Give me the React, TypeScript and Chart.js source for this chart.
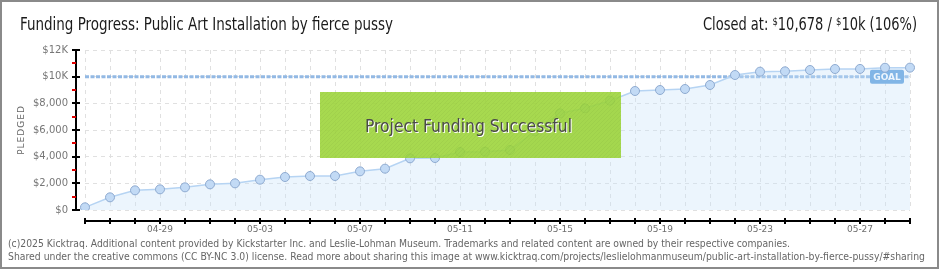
import React, { useEffect, useRef } from 'react';
import { Chart, registerables } from 'chart.js';

Chart.register(...registerables);

const dates = [
  '04-26', '04-27', '04-28', '04-29', '04-30', '05-01', '05-02', '05-03', '05-04', '05-05',
  '05-06', '05-07', '05-08', '05-09', '05-10', '05-11', '05-12', '05-13', '05-14', '05-15',
  '05-16', '05-17', '05-18', '05-19', '05-20', '05-21', '05-22', '05-23', '05-24', '05-25',
  '05-26', '05-27', '05-28', '05-29',
];
const pledged = [
  200, 950, 1475, 1550, 1700, 1925, 2000, 2275, 2475, 2550,
  2550, 2900, 3100, 3875, 3900, 4350, 4375, 4500, 5900, 7250,
  7625, 8200, 8925, 9000, 9075, 9375, 10125, 10375, 10400, 10500,
  10575, 10580, 10670, 10678,
];
const goalValue = 10000;
const goalLine = dates.map(() => goalValue);

const titleText = 'Funding Progress: Public Art Installation by fierce pussy';
const closedParts = ['Closed at: ', '$', '10,678 / ', '$', '10k (106%)'];
const bannerText = 'Project Funding Successful';
const footerLines = [
  '(c)2025 Kicktraq. Additional content provided by Kickstarter Inc. and Leslie-Lohman Museum. Trademarks and related content are owned by their respective companies.',
  'Shared under the creative commons (CC BY-NC 3.0) license. Read more about sharing this image at www.kicktraq.com/projects/leslielohmanmuseum/public-art-installation-by-fierce-pussy/#sharing',
];

const TITLE_FONT = '"DejaVu Sans Condensed", "DejaVu Sans", sans-serif';

function fitText(ctx: CanvasRenderingContext2D, text: string, x: number, y: number, font: string, width: number, color: string) {
  ctx.save();
  ctx.font = font;
  ctx.fillStyle = color;
  ctx.textAlign = 'left';
  ctx.textBaseline = 'alphabetic';
  const w = ctx.measureText(text).width;
  ctx.translate(x, y);
  ctx.scale(width / w, 1);
  ctx.fillText(text, 0, 0);
  ctx.restore();
}

const decorPlugin = {
  id: 'decor',
  afterDatasetDraw(chart: any, args: any) {
    if (args.index !== 1) return;
    const { ctx } = chart;
    const x = chart.scales.x;
    const y = chart.scales.y;
    const gy = y.getPixelForValue(goalValue);
    const cx = x.getPixelForValue(dates.length - 2) + 2;
    ctx.save();
    ctx.fillStyle = '#5b9ddc';
    const bw = 34, bh = 14;
    ctx.beginPath();
    ctx.roundRect(cx - bw / 2, gy - bh / 2, bw, bh, 2);
    ctx.fill();
    ctx.fillStyle = '#ffffff';
    ctx.font = 'bold 9px "DejaVu Sans", sans-serif';
    ctx.textAlign = 'center';
    ctx.textBaseline = 'middle';
    ctx.fillText('GOAL', cx, gy + 1);
    ctx.restore();
  },
  afterDraw(chart: any) {
    const { ctx, chartArea } = chart;
    const x = chart.scales.x;
    const y = chart.scales.y;
    ctx.save();
    // y axis
    const ax = chartArea.left - 9;
    const yTop = y.getPixelForValue(12000);
    const yBot = y.getPixelForValue(0);
    ctx.strokeStyle = '#000';
    ctx.lineWidth = 2;
    ctx.beginPath();
    ctx.moveTo(ax, yTop);
    ctx.lineTo(ax, yBot);
    ctx.stroke();
    for (let v = 0; v <= 12000; v += 1000) {
      const py = Math.round(y.getPixelForValue(v));
      ctx.beginPath();
      if (v % 2000 === 0) {
        ctx.strokeStyle = '#000';
        ctx.moveTo(ax - 4, py);
        ctx.lineTo(ax + 4, py);
      } else {
        ctx.strokeStyle = '#e00000';
        ctx.moveTo(ax - 4, py);
        ctx.lineTo(ax, py);
      }
      ctx.stroke();
    }
    // x axis
    const ay = chartArea.bottom + 11;
    ctx.strokeStyle = '#000';
    ctx.beginPath();
    ctx.moveTo(x.getPixelForValue(0), ay);
    ctx.lineTo(x.getPixelForValue(dates.length - 1), ay);
    ctx.stroke();
    for (let i = 0; i < dates.length; i++) {
      const px = Math.round(x.getPixelForValue(i));
      ctx.beginPath();
      ctx.moveTo(px, ay - 3);
      ctx.lineTo(px, ay + 3);
      ctx.stroke();
    }
    // PLEDGED
    ctx.save();
    ctx.translate(22, (yTop + yBot) / 2);
    ctx.rotate(-Math.PI / 2);
    ctx.fillStyle = '#666';
    ctx.font = '9px "DejaVu Sans", sans-serif';
    ctx.textAlign = 'center';
    ctx.textBaseline = 'middle';
    (ctx as any).letterSpacing = '1px';
    ctx.fillText('PLEDGED', 0, 0);
    ctx.restore();

    // banner
    const bx = 320, by = 92, bw = 301, bh = 66;
    ctx.fillStyle = 'rgba(155,212,55,0.88)';
    ctx.fillRect(bx, by, bw, bh);
    ctx.save();
    ctx.beginPath();
    ctx.rect(bx, by, bw, bh);
    ctx.clip();
    ctx.strokeStyle = 'rgba(0,0,0,0.035)';
    ctx.lineWidth = 1;
    for (let k = -bh; k < bw; k += 4) {
      ctx.beginPath();
      ctx.moveTo(bx + k, by + bh);
      ctx.lineTo(bx + k + bh, by);
      ctx.stroke();
    }
    ctx.restore();
    fitText(ctx, bannerText, 366, 133, '17px ' + TITLE_FONT, 207, '#ffffff');
    fitText(ctx, bannerText, 365, 132, '17px ' + TITLE_FONT, 207, '#4a4a4a');

    // title
    fitText(ctx, titleText, 20, 30, '17px ' + TITLE_FONT, 373, '#1a1a1a');

    // closed at
    const sizes = [17, 11, 17, 11, 17];
    let total = 0;
    const widths: number[] = [];
    closedParts.forEach((p, i) => {
      ctx.font = sizes[i] + 'px ' + TITLE_FONT;
      const w = ctx.measureText(p).width;
      widths.push(w);
      total += w;
    });
    const target = 214;
    const s = target / total;
    ctx.save();
    ctx.translate(703, 30);
    ctx.scale(s, 1);
    ctx.fillStyle = '#1a1a1a';
    let cur = 0;
    closedParts.forEach((p, i) => {
      ctx.font = sizes[i] + 'px ' + TITLE_FONT;
      ctx.fillText(p, cur, sizes[i] < 15 ? -5 : 0);
      cur += widths[i];
    });
    ctx.restore();

    // footer
    fitText(ctx, footerLines[0], 8, 247, '10px "DejaVu Sans Condensed", sans-serif', 782, '#666');
    fitText(ctx, footerLines[1], 8, 260, '10px "DejaVu Sans Condensed", sans-serif', 917, '#666');

    // border
    ctx.strokeStyle = '#8a8a8a';
    ctx.lineWidth = 2;
    ctx.strokeRect(1, 1, 937, 267);
    ctx.restore();
  },
};

export default function App() {
  const ref = useRef<HTMLCanvasElement>(null);
  useEffect(() => {
    if (!ref.current) return;
    const chart = new Chart(ref.current, {
      type: 'line',
      data: {
        labels: dates,
        datasets: [
          {
            label: 'Pledged',
            data: pledged,
            borderColor: '#b6d4f3',
            borderWidth: 1.5,
            backgroundColor: 'rgba(200,225,250,0.35)',
            fill: 'origin',
            pointRadius: 4.5,
            pointBackgroundColor: '#c2daf5',
            pointBorderColor: '#8eaad0',
            pointBorderWidth: 1,
            tension: 0,
            order: 0,
          },
          {
            label: 'Goal',
            data: goalLine,
            borderColor: '#93b9e4',
            borderWidth: 3,
            borderDash: [4, 1.5],
            pointRadius: 0,
            fill: false,
            order: 1,
          },
        ],
      },
      options: {
        animation: false,
        responsive: false,
        devicePixelRatio: 1,
        layout: { padding: { left: 0, right: 30, top: 50, bottom: 0 } },
        plugins: { legend: { display: false }, tooltip: { enabled: false } },
        scales: {
          x: {
            type: 'category',
            offset: false,
            grid: { color: '#e0e0e0', lineWidth: 1, drawTicks: false },
            border: { display: false, dash: [4, 4] },
            ticks: {
              autoSkip: false,
              maxRotation: 0,
              padding: 14,
              color: '#6e6e6e',
              font: { family: '"DejaVu Sans", sans-serif', size: 9 },
              callback: (_v: any, i: number) => (i % 4 === 3 ? dates[i] : ''),
            },
            afterFit: (s: any) => { s.height = 60; },
          },
          y: {
            min: 0,
            max: 12000,
            grid: { color: '#e0e0e0', lineWidth: 1, drawTicks: false },
            border: { display: false, dash: [4, 4] },
            ticks: {
              stepSize: 2000,
              padding: 17,
              color: '#777',
              font: { family: '"DejaVu Sans", sans-serif', size: 10 },
              callback: (v: any) => (v >= 10000 ? '$' + v / 1000 + 'K' : '$' + Number(v).toLocaleString('en-US')),
            },
            afterFit: (s: any) => { s.width = 85; },
          },
        },
      },
      plugins: [decorPlugin],
    });
    return () => chart.destroy();
  }, []);
  return (
    <div style={{ position: 'fixed', left: 0, top: 0, width: 940, height: 270, background: '#fff' }}>
      <canvas ref={ref} width={940} height={270} style={{ display: 'block', width: 940, height: 270 }} />
    </div>
  );
}
